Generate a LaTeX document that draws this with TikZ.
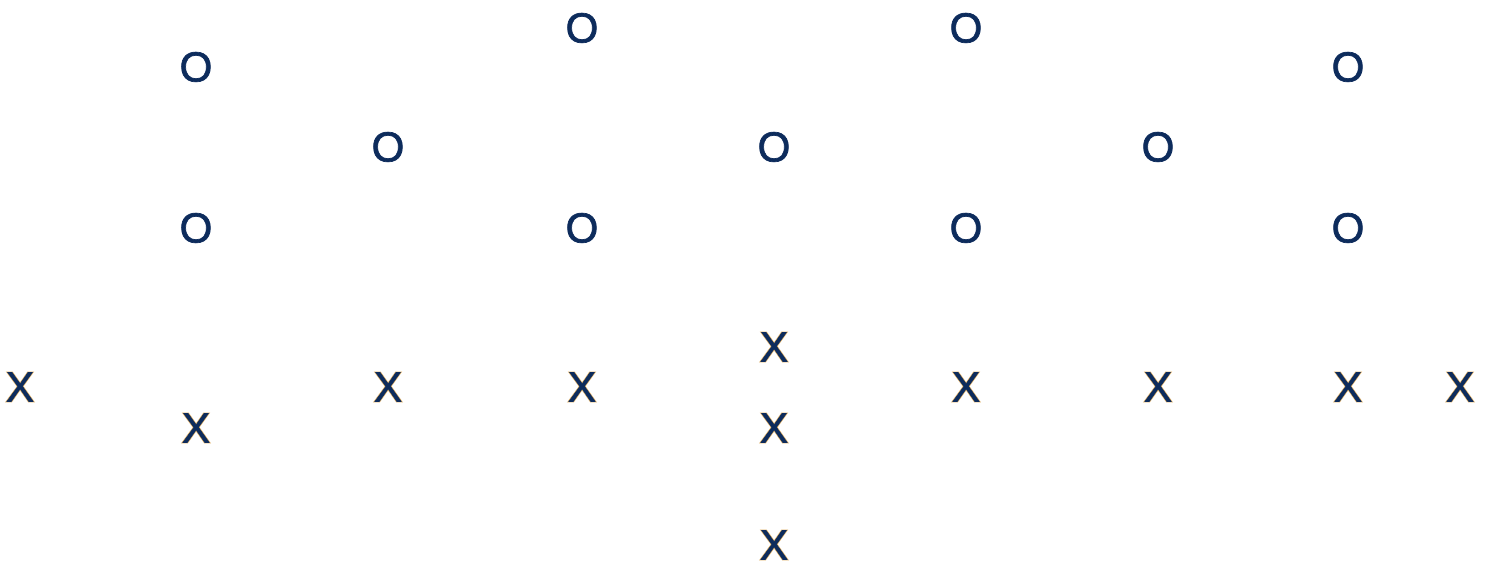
\documentclass[tikz,border=0pt]{standalone}
\usepackage{fontspec}
\setmainfont{Liberation Sans}
\usepackage{tikz}
\definecolor{navy}{HTML}{0D2C5C}
\newcommand{\boldo}{\special{pdf:literal 2 Tr 0.05 0.17 0.36 RG 0.4 w}O\special{pdf:literal 0 Tr}}
\newcommand{\goldx}{\rlap{\special{pdf:literal 2 Tr 0.87 0.68 0.38 RG 1.1 w}X\special{pdf:literal 0 Tr}}%
  \special{pdf:literal 2 Tr 0.05 0.17 0.36 RG 0.3 w}X\special{pdf:literal 0 Tr}}

\begin{document}
\begin{tikzpicture}[x=0.02cm, y=-0.02cm, font=\fontsize{24}{24}\selectfont,
    pO/.style={text=navy, inner sep=0pt},
    pX/.style={text=navy, inner sep=0pt}]
    \useasboundingbox (0,0) rectangle (1491,563);
    % Rangée des O
    \node[pO] (o1) at (196,67) {\boldo};
    \node[pO] (o2) at (582,28) {\boldo};
    \node[pO] (o3) at (966,28) {\boldo};
    \node[pO] (o4) at (1348,67) {\boldo};
    \node[pO] (o5) at (388,147) {\boldo};
    \node[pO] (o6) at (774,147) {\boldo};
    \node[pO] (o7) at (1158,147) {\boldo};
    \node[pO] (o8) at (196,228) {\boldo};
    \node[pO] (o9) at (582,228) {\boldo};
    \node[pO] (o10) at (966,228) {\boldo};
    \node[pO] (o11) at (1348,228) {\boldo};

    % Rangée des X
    \node[pX] (x1) at (20,387) {\goldx};
    \node[pX] (x2) at (196,428) {\goldx};
    \node[pX] (x3) at (388,387) {\goldx};
    \node[pX] (x4) at (582,387) {\goldx};
    \node[pX] (x5) at (774,347) {\goldx};
    \node[pX] (x6) at (774,428) {\goldx};
    \node[pX] (x7) at (774,545) {\goldx};
    \node[pX] (x8) at (966,387) {\goldx};
    \node[pX] (x9) at (1158,387) {\goldx};
    \node[pX] (x10) at (1348,387) {\goldx};
    \node[pX] (x11) at (1460,387) {\goldx};
\end{tikzpicture}
\end{document}
